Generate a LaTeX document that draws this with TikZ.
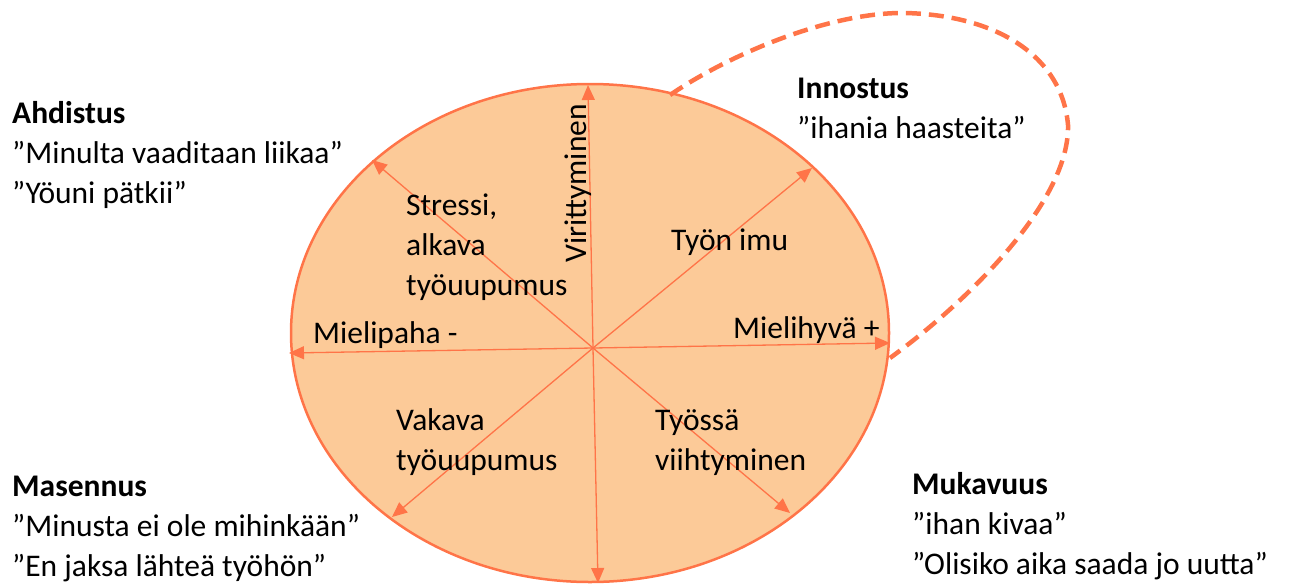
\documentclass[tikz,border=0pt]{standalone}
\usepackage{fontspec}
\setmainfont{Carlito}
\usetikzlibrary{arrows.meta,shapes.geometric}
\definecolor{peach}{RGB}{252,202,152}
\definecolor{coral}{RGB}{255,116,72}
\begin{document}
\begin{tikzpicture}[x=1pt,y=-1pt,
  % multi-line labels sit on the baseline of their last line
  lbl/.style={inner sep=0pt, anchor=base west, align=left,
              font=\fontsize{31.5}{40}\selectfont},
  axis/.style={draw=coral, line width=1.3pt,
               -{Triangle[length=15pt,width=13pt]}},
  loopline/.style={draw=coral, line width=4.5pt, dash pattern=on 15pt off 8pt}
]
\useasboundingbox (0,0) rectangle (1290,584);

% the emotional circumplex disc
\node[ellipse, draw=coral, fill=peach, line width=2.5pt,
      minimum width=598pt, minimum height=498pt, inner sep=0pt] (disc) at (590,333) {};

% axis end points on the rim
\coordinate (hub) at (593,348);
\coordinate (tN)  at (588,85);
\coordinate (tS)  at (598,583);
\coordinate (tW)  at (289,353);
\coordinate (tE)  at (890,343);
\coordinate (tNW) at (372,160);
\coordinate (tNE) at (812,168);
\coordinate (tSW) at (392,517);
\coordinate (tSE) at (790,513);

\foreach \t in {tN,tS,tW,tE,tNW,tNE,tSW,tSE}
  \draw[axis] (hub) -- (\t);

% dashed loop from the rim round the enthusiasm quadrant
\coordinate (loopA) at (670,95);
\coordinate (loopB) at (890,358);
\draw[loopline] (loopA) .. controls (730,54) and (830,12) .. (905,13)
  .. controls (995,15) and (1062,55) .. (1068,125)
  .. controls (1070,200) and (970,300) .. (loopB);

% labels inside the disc
\node[lbl, rotate=90] (vir) at (586,263) {Virittyminen};
\node[lbl] (stress) at (406,295) {Stressi,\\alkava\\työuupumus};
\node[lbl] (imu) at (671,250) {Työn imu};
\node[lbl] (paha) at (313,343) {Mielipaha -};
\node[lbl] (hyva) at (733,338) {Mielihyvä +};
\node[lbl] (vakava) at (396,470) {Vakava\\työuupumus};
\node[lbl] (viiht) at (655,470) {Työssä\\viihtyminen};

% quadrant descriptions outside the disc
\node[lbl] (ahd) at (12,203) {\textbf{Ahdistus}\\”Minulta vaaditaan liikaa”\\”Yöuni pätkii”};
\node[lbl] (inn) at (797,138) {\textbf{Innostus}\\”ihania haasteita”};
\node[lbl] (mas) at (12,576) {\textbf{Masennus}\\”Minusta ei ole mihinkään”\\”En jaksa lähteä työhön”};
\node[lbl] (muk) at (912,574) {\textbf{Mukavuus}\\”ihan kivaa”\\”Olisiko aika saada jo uutta”};
\end{tikzpicture}
\end{document}
